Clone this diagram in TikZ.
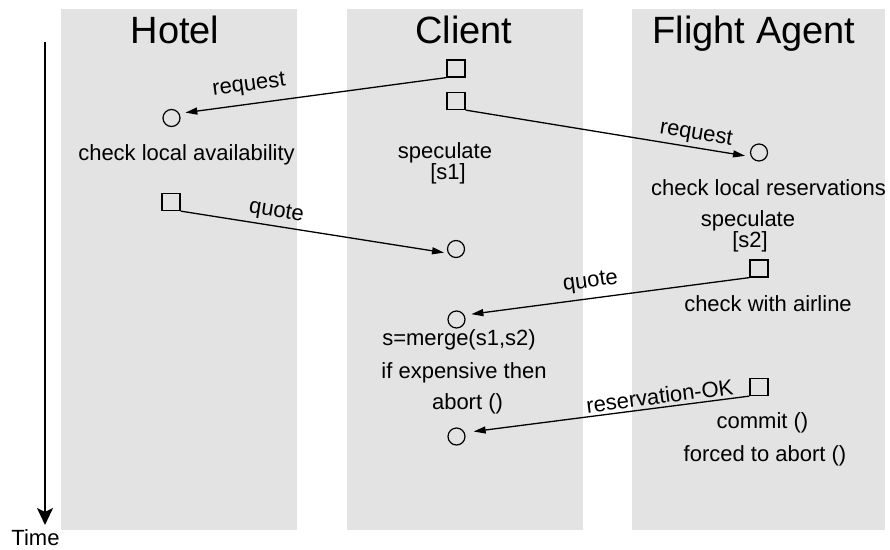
\documentclass[tikz,border=0pt]{standalone}
\usepackage{fontspec}
\setmainfont{Liberation Sans}
\usetikzlibrary{arrows.meta}
\definecolor{lane}{HTML}{E3E3E3}
\begin{document}
\begin{tikzpicture}[x=1pt,y=-1pt,
  lanebox/.style={fill=lane, draw=none},
  title/.style={font=\fontsize{38}{40}\selectfont, anchor=base, inner sep=0pt},
  txt/.style={font=\fontsize{22}{24}\selectfont, anchor=base, inner sep=0pt},
  sendbox/.style={draw, line width=1.2pt, minimum width=18pt, minimum height=17pt, inner sep=0pt},
  recv/.style={draw, circle, line width=1.2pt, minimum size=17pt, inner sep=0pt},
  msg/.style={line width=1.3pt, -{Triangle[length=12pt,width=7pt]}},
  lbl/.style={font=\fontsize{22}{24}\selectfont, sloped, inner sep=2pt},
]
\useasboundingbox (0,0) rectangle (890,549);

% swim lanes
\fill[lanebox] (61,9) rectangle (297,530);
\fill[lanebox] (347,9) rectangle (583,530);
\fill[lanebox] (632,9) rectangle (885,530);

% lane titles
\node[title] (thotel) at (175,43) {Hotel};
\node[title] (tclient) at (464,43) {Client};
\node[title] (tflight) at (754,43) {Flight Agent};

% time axis
\coordinate (t0) at (45,42);
\coordinate (t1) at (45,525);
\draw[line width=2pt, -{Stealth[length=17pt,width=16pt,inset=4pt]}] (t0) -- (t1);
\node[txt] (timelbl) at (35.5,545) {Time};

% events: squares send, circles receive
\node[sendbox] (c1) at (456,68.5) {};
\node[sendbox] (c2) at (456,101) {};
\node[recv]    (h1) at (171.5,118) {};
\node[recv]    (f1) at (759,152.5) {};
\node[sendbox] (h2) at (171,202) {};
\node[recv]    (c3) at (456,249) {};
\node[sendbox] (f2) at (759,268.5) {};
\node[recv]    (c4) at (456.5,319.5) {};
\node[sendbox] (f3) at (759,387) {};
\node[recv]    (c5) at (456.5,436.5) {};

% annotations
\node[txt] (a1) at (186.5,160.5) {check local availability};
\node[txt] (a2) at (445,158) {speculate};
\node[txt] (a3) at (448,179.5) {[s1]};
\node[txt] (a4) at (768.5,195) {check local reservations};
\node[txt] (a5) at (748,226) {speculate};
\node[txt] (a6) at (750,247.5) {[s2]};
\node[txt] (a7) at (768,311.5) {check with airline};
\node[txt] (a8) at (459,345.5) {s=merge(s1,s2)};
\node[txt] (a9) at (464,378) {if expensive then};
\node[txt] (a10) at (467.5,409) {abort ()};
\node[txt] (a11) at (762.5,428) {commit ()};
\node[txt] (a12) at (765,461) {forced to abort ()};

% messages
\draw[msg, shorten >=6pt] (c1.south west) -- node[lbl, pos=0.73, above=6pt] {request} (h1.30);
\draw[msg, shorten >=6pt] (c2.south east) -- node[lbl, pos=0.8, above=1pt] {request} (f1.208);
\draw[msg, shorten >=4pt] (h2.south east) -- node[lbl, pos=0.35, above=2pt] {quote} (c3.208);
\draw[msg, shorten >=7pt] (f2.south west) -- node[lbl, pos=0.55, above=4pt] {quote} (c4.29);
\draw[msg, shorten >=9pt] (f3.south west) -- node[lbl, pos=0.31, above=1pt] {reservation-OK} (c5.25);
\end{tikzpicture}
\end{document}
